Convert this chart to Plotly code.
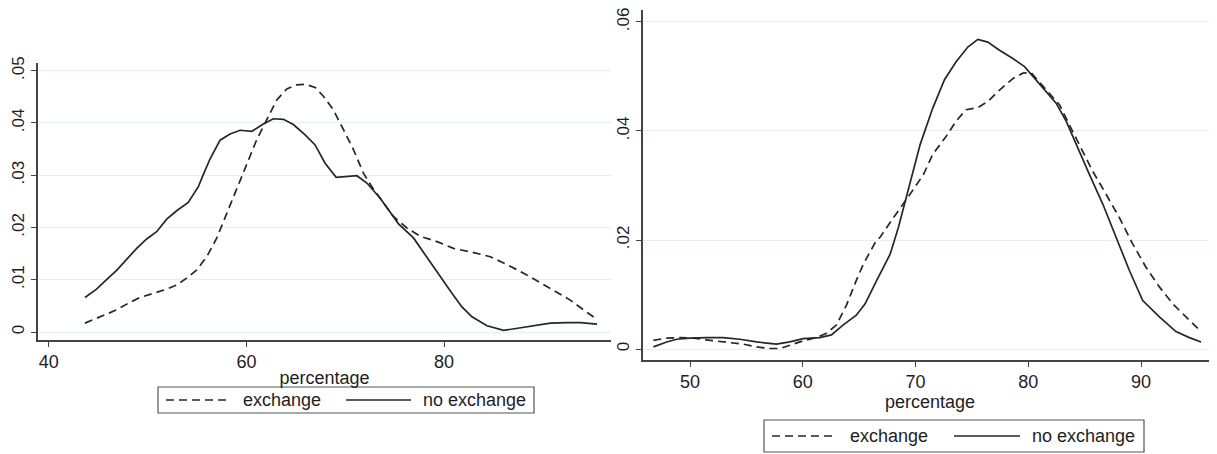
import plotly.graph_objects as go

# ---------------- data ----------------
left_exch_x = [43.65, 45.17, 46.69, 48.04, 49.22, 50.57, 51.93, 52.94, 53.95, 54.97, 55.98, 57.0, 58.0,
               59.02, 60.03, 61.04, 62.05, 63.07, 64.08, 65.10, 65.94, 66.95, 67.79, 68.80, 69.82, 70.83,
               71.84, 72.69, 73.87, 74.88, 76.24, 77.59, 79.28, 80.96, 82.99, 84.68, 86.03, 87.72, 89.41,
               91.09, 92.78, 94.14, 95.49]
left_exch_y = [0.0017, 0.0029, 0.0041, 0.0055, 0.0066, 0.0074, 0.0082, 0.0090, 0.0103, 0.0119, 0.0144,
               0.0180, 0.0227, 0.0272, 0.0320, 0.0368, 0.0406, 0.0444, 0.0465, 0.0473, 0.0474, 0.0468,
               0.0451, 0.0425, 0.0387, 0.0349, 0.0304, 0.0278, 0.0247, 0.0221, 0.0199, 0.0183, 0.0173,
               0.0160, 0.0152, 0.0144, 0.0132, 0.0116, 0.0098, 0.0080, 0.0061, 0.0042, 0.0024]

left_noex_x = [43.65, 44.83, 45.84, 46.86, 47.87, 48.89, 49.90, 50.91, 51.93, 52.94, 54.11, 55.13, 55.63,
               56.31, 57.33, 58.34, 59.35, 60.54, 61.71, 62.73, 63.74, 64.75, 65.94, 66.95, 67.96, 69.08,
               71.18, 72.19, 73.54, 75.39, 76.91, 78.27, 79.62, 80.80, 81.81, 82.83, 84.35, 86.03, 87.39,
               89.07, 90.76, 92.45, 93.80, 95.49]
left_noex_y = [0.0066, 0.0082, 0.0100, 0.0118, 0.0139, 0.0160, 0.0178, 0.0192, 0.0216, 0.0232, 0.0248,
               0.0278, 0.0301, 0.0331, 0.0367, 0.0379, 0.0386, 0.0384, 0.0398, 0.0408, 0.0407, 0.0397,
               0.0377, 0.0358, 0.0323, 0.0296, 0.0299, 0.0285, 0.0256, 0.0207, 0.0180, 0.0144, 0.0106,
               0.0074, 0.0048, 0.0029, 0.0012, 0.0003, 0.0007, 0.0013, 0.0017, 0.0018, 0.0018, 0.0015]

right_exch_x = [46.75, 47.93, 49.12, 50.3, 51.77, 53.25, 54.72, 55.9, 57.08, 57.97, 58.85, 60.03, 61.21,
                62.1, 62.98, 63.87, 64.75, 65.38, 66.52, 66.86, 68.04, 69.22, 70.7, 71.53, 72.71, 73.6,
                74.48, 75.53, 76.41, 77.45, 78.63, 79.52, 80.25, 80.99, 81.88, 82.77, 83.65, 84.69, 85.72,
                86.9, 88.08, 89.26, 90.44, 91.63, 92.81, 93.99, 95.32]
right_exch_y = [0.0016, 0.0020, 0.0021, 0.0020, 0.0016, 0.0013, 0.0009, 0.0004, 0.0001, 0.0001, 0.0007,
                0.0015, 0.0021, 0.0029, 0.0044, 0.0080, 0.0126, 0.0156, 0.0199, 0.0205, 0.0241, 0.0275,
                0.0320, 0.0357, 0.0390, 0.0418, 0.0439, 0.0443, 0.0454, 0.0475, 0.0496, 0.0506, 0.0507,
                0.0490, 0.0469, 0.0448, 0.0411, 0.0369, 0.0326, 0.0284, 0.0241, 0.0193, 0.0150, 0.0114,
                0.0083, 0.0059, 0.0032]

right_noex_x = [46.75, 47.93, 48.82, 50.0, 51.48, 52.95, 54.42, 55.90, 57.67, 58.85, 60.03, 61.5, 62.54,
                63.57, 64.75, 65.53, 66.56, 67.75, 68.48, 69.08, 69.67, 70.41, 71.53, 72.57, 73.6, 74.64,
                75.53, 76.41, 77.45, 78.63, 79.67, 80.7, 81.59, 82.47, 83.36, 84.25, 85.43, 86.61, 87.79,
                88.97, 90.15, 91.63, 93.1, 94.29, 95.32]
right_noex_y = [0.0004, 0.0013, 0.0018, 0.0020, 0.0021, 0.0021, 0.0018, 0.0013, 0.0009, 0.0013, 0.0019,
                0.0021, 0.0026, 0.0044, 0.0062, 0.0083, 0.0126, 0.0174, 0.0223, 0.0272, 0.0320, 0.0375,
                0.0442, 0.0494, 0.0527, 0.0554, 0.0568, 0.0563, 0.0548, 0.0533, 0.0518, 0.0494, 0.0472,
                0.0451, 0.0418, 0.0375, 0.0320, 0.0266, 0.0205, 0.0144, 0.0089, 0.0059, 0.0032, 0.0021,
                0.0013]

left_xticks = [40, 60, 80]
left_yticks = [0, 0.01, 0.02, 0.03, 0.04, 0.05]
left_yticktext = ["0", ".01", ".02", ".03", ".04", ".05"]
right_xticks = [50, 60, 70, 80, 90]
right_yticks = [0, 0.02, 0.04, 0.06]
right_yticktext = ["0", ".02", ".04", ".06"]
series_names = ["exchange", "no exchange"]
x_title = "percentage"

# ---------------- styling ----------------
# the page body has an 8px default margin, so the figure is sized to fill the rest of the window
OFF = 8
WIN_W, WIN_H = 1217, 454
W, H = WIN_W - OFF, WIN_H - OFF
FONT = "Liberation Sans, Arial, sans-serif"
TXT = "#1e1e1e"
LINE = "#262626"
GRID = "#e6eef0"
AX = "#444444"
DASH = "8px,5px"

def px_x(p):
    return (p - OFF) / W

def px_y(p):
    return (WIN_H - p) / H

fig = go.Figure()
fig.add_trace(go.Scatter(x=left_exch_x, y=left_exch_y, name=series_names[0], mode="lines",
                         line=dict(color=LINE, width=1.7, dash=DASH), xaxis="x", yaxis="y",
                         showlegend=False))
fig.add_trace(go.Scatter(x=left_noex_x, y=left_noex_y, name=series_names[1], mode="lines",
                         line=dict(color=LINE, width=1.7), xaxis="x", yaxis="y", showlegend=False))
fig.add_trace(go.Scatter(x=right_exch_x, y=right_exch_y, name=series_names[0], mode="lines",
                         line=dict(color=LINE, width=1.7, dash=DASH), xaxis="x2", yaxis="y2",
                         showlegend=False))
fig.add_trace(go.Scatter(x=right_noex_x, y=right_noex_y, name=series_names[1], mode="lines",
                         line=dict(color=LINE, width=1.7), xaxis="x2", yaxis="y2", showlegend=False))

tickfont = dict(family=FONT, size=18, color=TXT)
ytickfont = dict(family=FONT, size=17, color=TXT)
xcommon = dict(showline=True, linecolor=AX, linewidth=1.5, ticks="outside", ticklen=5, tickcolor=AX,
               tickwidth=1.3, showgrid=False, zeroline=False, tickfont=tickfont, automargin=False,
               title=dict(text=x_title, font=dict(family=FONT, size=18, color=TXT), standoff=0))
ycommon = dict(showline=True, linecolor=AX, linewidth=1.5, ticks="outside", ticklen=5, tickcolor=AX,
               tickwidth=1.3, showgrid=True, gridcolor=GRID, gridwidth=1.3, zeroline=False,
               tickfont=ytickfont, tickangle=-90, automargin=False, ticklabeloverflow="allow")

fig.update_layout(
    width=W, height=H, margin=dict(l=0, r=0, t=0, b=0, autoexpand=False),
    paper_bgcolor="white", plot_bgcolor="white",
    font=dict(family=FONT, size=18, color=TXT),
    xaxis=dict(domain=[px_x(38), px_x(611)], range=[38.9, 96.9], anchor="y",
               tickvals=left_xticks, **xcommon),
    yaxis=dict(domain=[px_y(340), px_y(63)], range=[-0.00153, 0.05147], anchor="x",
               tickvals=left_yticks, ticktext=left_yticktext, **ycommon),
    xaxis2=dict(domain=[px_x(643), 1.0], range=[45.83, 96.74], anchor="y2",
                tickvals=right_xticks, **xcommon),
    yaxis2=dict(domain=[px_y(360), px_y(10)], range=[-0.00201, 0.06219], anchor="x2",
                tickvals=right_yticks, ticktext=right_yticktext, **ycommon),
)

# ---------------- legends (drawn as layout boxes) ----------------
shapes = []
annotations = []

def legend(box, y_mid, dash_seg, text1_x, solid_seg, text2_x):
    shapes.append(dict(type="rect", xref="paper", yref="paper",
                       x0=px_x(box[0]), x1=px_x(box[1]), y0=px_y(box[3]), y1=px_y(box[2]),
                       line=dict(color="#555555", width=1.2), fillcolor="white"))
    shapes.append(dict(type="line", xref="paper", yref="paper",
                       x0=px_x(dash_seg[0]), x1=px_x(dash_seg[1]), y0=px_y(y_mid), y1=px_y(y_mid),
                       line=dict(color=LINE, width=1.7, dash=DASH)))
    shapes.append(dict(type="line", xref="paper", yref="paper",
                       x0=px_x(solid_seg[0]), x1=px_x(solid_seg[1]), y0=px_y(y_mid), y1=px_y(y_mid),
                       line=dict(color=LINE, width=1.7)))
    for tx, t in ((text1_x, series_names[0]), (text2_x, series_names[1])):
        annotations.append(dict(xref="paper", yref="paper", x=px_x(tx), y=px_y(y_mid),
                                xanchor="left", yanchor="middle", text=t, showarrow=False,
                                font=dict(family=FONT, size=18, color=TXT)))

legend((158, 534, 387, 413), 400, (166, 231), 241, (346, 411), 421)
legend((764, 1144, 420, 452), 436, (772, 836), 848, (954, 1020), 1030)

fig.update_layout(shapes=shapes, annotations=annotations)
fig.write_html("out.html")
